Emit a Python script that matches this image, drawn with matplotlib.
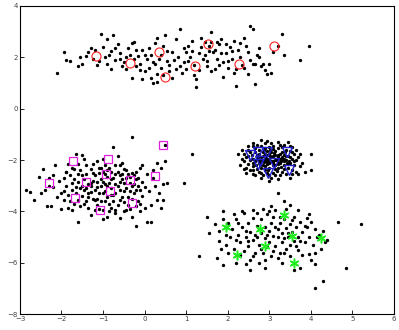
import matplotlib
matplotlib.use("Agg")
import matplotlib.pyplot as plt

# ---- black data points, per cluster (x, y) ----
top_pts = [(-2.1,1.4),(-1.95,2.2),(-1.9,1.9),(-1.8,1.85),(-1.55,2.0),(-1.5,1.75),(-1.35,2.2),(-1.3,2.35),
(-1.25,1.95),(-1.15,1.7),(-1.05,2.9),(-1.0,2.4),(-0.9,2.7),(-0.85,2.1),(-0.8,2.25),(-0.75,2.85),(-0.7,1.9),
(-0.65,2.5),(-0.6,2.15),(-0.55,1.65),(-0.5,1.8),(-0.45,1.55),(-0.45,2.0),(-0.4,2.35),(-0.3,2.55),(-0.3,1.2),
(-0.25,1.95),(-0.2,1.65),(-0.15,2.05),(-0.1,1.75),(-0.05,2.3),(0.0,1.45),(0.05,1.95),(0.1,1.6),(0.15,2.1),
(0.2,1.8),(0.2,1.0),(0.25,2.55),(0.3,1.35),(0.3,1.05),(0.35,1.95),(0.4,1.6),(0.45,2.45),(0.5,2.85),(0.55,1.85),
(0.6,1.45),(0.65,2.2),(0.7,1.9),(0.75,2.7),(0.85,3.1),(0.9,1.4),(0.95,1.8),(1.0,2.2),(1.05,2.45),(1.1,2.0),
(1.15,2.65),(1.2,1.3),(1.25,0.85),(1.3,2.15),(1.35,2.75),(1.4,1.95),(1.45,2.6),(1.5,1.65),(1.55,2.45),(1.6,3.0),
(1.65,2.2),(1.7,1.55),(1.75,1.95),(1.8,2.5),(1.85,2.7),(1.9,1.8),(1.95,2.15),(2.0,1.6),(2.05,2.4),(2.1,1.95),
(2.15,1.4),(2.2,0.9),(2.25,2.3),(2.3,2.55),(2.4,1.6),(2.5,2.2),(2.55,3.2),(2.6,1.75),(2.65,0.98),(2.7,2.1),
(2.75,2.35),(2.8,1.65),(2.9,1.5),(2.95,1.35),(3.0,1.75),(3.2,2.45),(3.3,2.9),(3.35,2.1),(3.75,1.9),(3.95,2.45),
(2.6,3.1),(1.6,2.6),
(-1.4,2.05),(-1.2,2.3),(-1.1,1.85),(-0.95,2.0),(-0.9,1.75),(-0.7,2.35),(-0.6,1.95),(-0.35,2.1),(-0.2,2.3),
(-0.1,1.5),(0.0,2.1),(0.1,2.35),(0.15,1.2),(0.25,1.75),(0.4,2.1),(0.45,1.3),(0.55,2.25),(0.6,1.7),(0.75,1.55),
(0.8,2.0),(0.85,1.65),(0.95,2.35),(1.0,1.55),(1.05,1.85),(1.15,2.25),(1.2,1.7),(1.3,1.5),(1.35,2.4),(1.45,2.1),
(1.5,1.85),(1.55,2.25),(1.6,1.45),(1.7,2.3),(1.75,2.6),(1.8,1.7),(1.85,2.15),(1.95,2.5),(2.0,1.85),(2.1,2.25),
(2.15,2.65),(2.2,1.55),(2.3,2.0),(2.35,1.7),(2.45,2.45),(2.5,1.35),(2.55,1.9),(2.65,1.75),(2.75,2.0),(2.85,1.75),
(3.05,1.4),(0.3,2.75),(-0.8,1.55),(-1.6,1.65),(-0.25,2.6),(0.65,1.2),(1.9,1.25),(1.25,1.15),(-0.05,1.15),
(2.4,2.75),(3.1,2.2)]

left_pts = [(-2.85,-3.15),(-2.75,-3.25),(-2.65,-3.55),(-2.55,-2.65),(-2.45,-2.35),(-2.5,-3.3),(-2.3,-3.0),
(-2.25,-3.8),(-2.2,-2.6),(-2.15,-2.2),(-2.1,-3.45),(-2.05,-2.8),(-2.0,-3.9),(-1.95,-3.2),(-1.9,-2.45),
(-1.85,-3.85),(-1.8,-3.6),(-1.75,-2.9),(-1.7,-2.35),(-1.65,-1.75),(-1.6,-4.4),(-1.55,-3.1),(-1.5,-2.6),
(-1.5,-1.8),(-1.45,-3.7),(-1.4,-2.2),(-1.35,-3.3),(-1.3,-2.9),(-1.3,-4.15),(-1.25,-2.5),(-1.2,-3.55),
(-1.15,-3.05),(-1.1,-2.3),(-1.1,-3.9),(-1.05,-2.75),(-1.0,-3.3),(-1.0,-1.95),(-0.95,-2.55),(-0.95,-3.6),
(-0.9,-3.0),(-0.9,-4.2),(-0.85,-2.3),(-0.8,-2.75),(-0.8,-3.85),(-0.75,-1.5),(-0.75,-3.35),(-0.7,-2.55),
(-0.7,-4.05),(-0.65,-3.0),(-0.6,-2.2),(-0.6,-3.55),(-0.55,-2.75),(-0.5,-3.2),(-0.5,-4.0),(-0.45,-2.4),
(-0.4,-3.45),(-0.35,-2.9),(-0.3,-1.1),(-0.3,-2.5),(-0.25,-3.3),(-0.2,-2.75),(-0.2,-3.8),(-0.15,-3.0),
(-0.1,-2.3),(-0.1,-4.0),(-0.05,-3.4),(0.0,-3.85),(0.05,-2.55),(0.1,-3.2),(0.15,-4.4),(0.2,-2.4),(0.25,-3.0),
(0.35,-3.3),(0.4,-3.85),(0.45,-2.95),(0.5,-2.05),(0.5,-1.4),(0.55,-2.9),(0.4,-2.3),(0.3,-3.55),(0.05,-4.4),
(-0.2,-4.55),(0.95,-2.9),(1.15,-1.75),(-1.6,-2.55),(-2.35,-3.8),
(-1.95,-2.7),(-1.9,-3.0),(-1.85,-3.35),(-1.8,-2.6),(-1.75,-3.15),(-1.7,-3.7),(-1.7,-2.75),(-1.65,-3.3),
(-1.6,-2.85),(-1.6,-3.55),(-1.55,-2.4),(-1.5,-3.0),(-1.5,-3.4),(-1.45,-2.75),(-1.45,-3.15),(-1.4,-2.55),
(-1.4,-3.6),(-1.35,-2.95),(-1.35,-3.85),(-1.3,-2.35),(-1.3,-3.25),(-1.25,-2.8),(-1.25,-3.5),(-1.2,-2.6),
(-1.2,-3.15),(-1.15,-2.85),(-1.15,-3.75),(-1.1,-2.5),(-1.1,-3.3),(-1.05,-3.0),(-1.05,-3.6),(-1.0,-2.45),
(-1.0,-2.85),(-1.0,-3.95),(-0.95,-3.2),(-0.9,-2.65),(-0.9,-3.45),(-0.85,-2.9),(-0.85,-3.7),(-0.8,-2.45),
(-0.8,-3.1),(-0.75,-2.7),(-0.75,-3.6),(-0.7,-2.95),(-0.7,-3.3),(-0.65,-2.45),(-0.65,-3.75),(-0.6,-2.85),
(-0.6,-3.15),(-0.55,-2.55),(-0.55,-3.45),(-0.5,-2.9),(-0.5,-3.65),(-0.45,-2.7),(-0.45,-3.1),(-0.4,-2.55),
(-0.4,-3.75),(-0.35,-3.2),(-0.35,-2.65),(-0.3,-3.5),(-0.25,-2.95),(-0.25,-2.6),(-0.2,-3.15),(-0.15,-3.6),
(-0.15,-2.7),(-0.1,-3.15),(-0.05,-2.85),(0.0,-3.05),(-1.75,-2.3),(-1.25,-2.15),(-0.95,-2.2),(-0.55,-2.1),
(-0.2,-2.45),(-1.85,-2.15),(-2.2,-3.05),(-2.0,-3.3),(-1.55,-3.8),(-1.2,-3.95),(-0.85,-4.0),(-0.45,-3.95),
(-0.1,-3.7),(-1.95,-3.55),(-1.35,-3.45),(-0.95,-2.95),(-0.7,-3.95),(-0.35,-3.9),(-1.15,-2.05),(-0.65,-1.85),
(-1.45,-1.95),(-2.3,-2.7),(-2.4,-3.15),(-1.75,-3.95),(-0.3,-4.2),(-0.6,-4.25),(-1.0,-4.3),(0.15,-3.75),
(0.2,-2.7),(-0.05,-2.2),(0.3,-2.1),(0.45,-3.55),(-1.6,-2.15),(-1.3,-3.0),(-1.05,-2.3),(-0.8,-3.35),
(-0.5,-2.35),(-1.4,-3.1),(-1.15,-3.5),(-0.9,-2.4),(-0.6,-2.6),(-0.3,-3.0),(-1.65,-3.05),(-1.9,-2.45),(-0.7,-2.2)]

mid_pts = [(2.25,-1.75),(2.4,-2.05),(2.35,-1.6),(2.5,-1.45),(2.6,-1.35),(2.8,-1.2),(2.95,-1.25),(3.2,-1.3),
(3.45,-1.3),(3.55,-1.5),(3.75,-1.75),(3.8,-2.1),(3.85,-2.45),(3.7,-2.55),(3.5,-2.7),(3.2,-2.75),(3.0,-2.8),
(2.8,-2.7),(2.6,-2.55),(2.45,-2.3),(2.3,-2.2),(4.0,-1.75),(4.0,-2.4),(3.2,-3.3),
(2.45,-1.9),(2.5,-2.15),(2.55,-1.7),(2.55,-2.4),(2.6,-1.95),(2.6,-2.25),(2.65,-1.55),(2.65,-2.05),(2.7,-1.8),
(2.7,-2.35),(2.75,-1.6),(2.75,-2.1),(2.8,-1.45),(2.8,-1.9),(2.8,-2.5),(2.85,-1.7),(2.85,-2.2),(2.9,-1.55),
(2.9,-2.0),(2.9,-2.4),(2.95,-1.8),(2.95,-2.15),(3.0,-1.5),(3.0,-1.95),(3.0,-2.3),(3.0,-2.6),(3.05,-1.7),
(3.05,-2.05),(3.1,-1.45),(3.1,-1.85),(3.1,-2.2),(3.1,-2.5),(3.15,-1.65),(3.15,-2.0),(3.2,-1.55),(3.2,-1.9),
(3.2,-2.3),(3.25,-1.75),(3.25,-2.1),(3.3,-1.5),(3.3,-1.95),(3.3,-2.45),(3.35,-1.8),(3.35,-2.2),(3.4,-1.6),
(3.4,-2.0),(3.45,-1.85),(3.45,-2.3),(3.5,-1.65),(3.5,-2.1),(3.55,-1.95),(3.55,-2.4),(3.6,-1.75),(3.6,-2.2),
(3.65,-2.0),(3.7,-1.9),(2.4,-1.75),(2.45,-2.5),(2.5,-1.6),(2.55,-2.0),(2.6,-1.45),(2.65,-2.6),(2.7,-1.4),
(2.75,-2.45),(2.85,-2.6),(2.9,-1.35),(2.95,-2.5),(3.05,-1.35),(3.05,-2.7),(3.15,-2.6),(3.25,-1.4),(3.25,-2.6),
(3.35,-1.4),(3.4,-2.55),(3.5,-1.45),(3.55,-2.55),(3.65,-1.6),(3.65,-2.45),(3.75,-2.25),(2.35,-1.95),(2.4,-2.35),
(2.5,-1.85),(2.6,-2.1),(2.7,-1.95),(2.75,-1.75),(2.8,-2.05),(2.85,-1.85),(2.9,-2.25),(2.95,-1.65),(3.0,-2.1),
(3.05,-1.9),(3.1,-2.05),(3.15,-1.8),(3.2,-2.15),(3.25,-1.95),(3.3,-1.7),(3.35,-2.05),(3.4,-1.85),(3.45,-2.15),
(3.5,-1.9),(3.55,-1.7),(3.6,-2.05),(2.65,-1.7),(2.9,-1.75),(3.0,-1.75),(3.15,-2.35),(2.8,-2.3),(3.35,-2.35),
(2.72,-1.88),(2.78,-2.18),(2.88,-1.62),(2.92,-1.92),(2.98,-2.38),(3.02,-1.62),(3.08,-2.12),(3.12,-1.72),
(3.18,-2.42),(3.22,-1.82),(3.28,-2.28),(3.32,-1.88),(3.38,-1.68),(3.42,-2.12),(3.48,-2.02),(2.68,-2.18),
(2.58,-1.82),(2.62,-2.38),(2.88,-2.08),(3.18,-1.98),(3.28,-2.02),(3.08,-1.58),(2.96,-1.98),(3.14,-2.18),
(2.84,-1.98),(3.36,-1.96),(3.02,-1.84),(2.94,-2.06),(3.22,-2.06),(2.76,-1.98)]

bot_pts = [(1.3,-5.75),(1.5,-4.2),(1.55,-4.85),(1.9,-4.0),(1.9,-6.1),(2.2,-6.0),(2.45,-6.05),(2.55,-6.3),
(2.9,-6.2),(4.1,-6.05),(4.1,-7.0),(4.3,-6.7),(4.65,-4.4),(4.85,-6.2),(5.2,-4.5),(4.35,-5.2),(4.2,-4.9),
(3.95,-4.1),(3.5,-3.75),(3.35,-3.6),
(1.8,-4.75),(1.8,-5.15),(1.95,-5.3),(2.0,-4.45),(2.05,-5.0),(2.1,-4.7),(2.15,-5.45),(2.2,-4.3),(2.25,-4.9),
(2.3,-5.2),(2.35,-4.6),(2.4,-5.55),(2.4,-4.05),(2.45,-5.0),(2.5,-4.45),(2.5,-5.35),(2.55,-4.8),(2.6,-5.1),
(2.6,-4.25),(2.65,-5.6),(2.7,-4.55),(2.7,-5.0),(2.75,-5.3),(2.8,-4.3),(2.8,-4.85),(2.85,-5.6),(2.9,-4.6),
(2.9,-5.05),(2.95,-4.1),(2.95,-5.4),(3.0,-4.75),(3.0,-5.2),(3.05,-4.45),(3.05,-5.75),(3.1,-4.95),(3.1,-4.2),
(3.15,-5.35),(3.2,-4.7),(3.2,-5.0),(3.25,-4.45),(3.25,-5.6),(3.3,-4.85),(3.3,-5.2),(3.35,-4.3),(3.4,-4.65),
(3.4,-5.45),(3.45,-5.0),(3.5,-4.5),(3.5,-5.3),(3.55,-4.8),(3.6,-4.2),(3.6,-5.15),(3.65,-4.6),(3.7,-5.0),
(3.7,-5.5),(3.75,-4.4),(3.8,-4.8),(3.85,-5.2),(3.9,-4.6),(3.95,-5.0),(4.0,-4.4),(4.05,-5.3),(4.1,-4.7),
(4.15,-5.0),(2.35,-4.0),(2.6,-3.95),(2.85,-3.9),(3.15,-3.95),(3.4,-3.9),(3.7,-3.95),(3.9,-4.25),(4.25,-5.45),
(4.1,-5.6),(3.8,-5.7),(3.5,-5.75),(3.2,-5.8),(2.9,-5.9),(2.6,-5.75),(2.3,-5.7),(2.0,-5.6),(1.85,-5.45),
(1.7,-4.5),(1.9,-4.3),(2.15,-4.1),(3.6,-6.3),(3.3,-6.0),(3.95,-5.65),(4.0,-5.9),(3.75,-6.2),(2.75,-6.0),
(2.55,-5.9),(2.45,-4.75),(2.7,-4.05),(3.05,-3.8),(2.2,-5.1),(2.95,-4.9),(3.35,-5.05),(3.55,-4.35),(3.85,-4.55),
(3.15,-4.6),(2.75,-4.7),(2.5,-5.15),(3.45,-4.85),(3.65,-5.35),(3.1,-5.55),(2.8,-5.45),(4.3,-4.75),(4.4,-5.1),
(1.95,-4.9),(2.25,-4.45),(1.75,-5.8),(3.0,-4.0),(3.25,-4.2),(2.65,-4.9),(3.75,-5.15),(3.35,-5.6)]

# ---- highlighted samples ----
red_x = [-1.17, -0.36, 0.34, 0.50, 1.22, 1.53, 2.27, 3.11]
red_y = [2.06, 1.77, 2.22, 1.23, 1.68, 2.51, 1.73, 2.44]
mag_x = [-2.29, -1.73, -1.68, -1.42, -1.08, -0.92, -0.88, -0.84, -0.36, -0.31, 0.25, 0.45]
mag_y = [-2.91, -2.05, -3.48, -2.86, -3.96, -2.53, -1.96, -3.22, -2.78, -3.68, -2.62, -1.43]
blue_x = [2.53, 2.72, 2.72, 2.94, 2.79, 2.96, 3.11, 3.42, 3.47]
blue_y = [-1.80, -2.16, -1.69, -1.69, -2.04, -2.51, -2.12, -1.69, -2.39]
grn_x = [1.95, 2.22, 2.77, 2.89, 3.35, 3.55, 3.59, 4.25]
grn_y = [-4.61, -5.69, -4.68, -5.36, -4.12, -4.97, -5.99, -5.05]

x_ticks = [-3, -2, -1, 0, 1, 2, 3, 4, 5, 6]
y_ticks = [-8, -6, -4, -2, 0, 2, 4]

fig = plt.figure(figsize=(3.99, 3.30), dpi=100)
ax = fig.add_axes([0.050, 0.048, 0.937, 0.934])

for pts in (top_pts, left_pts, mid_pts, bot_pts):
    xs = [p[0] for p in pts]
    ys = [p[1] for p in pts]
    ax.plot(xs, ys, linestyle='none', marker='o', ms=1.4, color='black', mec='black')

ax.plot(red_x, red_y, linestyle='none', marker='o', ms=6.5, mfc='none', mec='#ff2020', mew=0.8)
ax.plot(mag_x, mag_y, linestyle='none', marker='s', ms=5.5, mfc='none', mec='#e020e0', mew=0.9)
ax.plot(blue_x, blue_y, linestyle='none', marker='v', ms=6.5, mfc='none', mec='#2020d0', mew=1.0)
ax.plot(grn_x, grn_y, linestyle='none', marker=(6, 2, 0), ms=7, color='#20ee20', mec='#20ee20', mew=1.1)

ax.set_xlim(-3, 6)
ax.set_ylim(-8, 4)
ax.set_xticks(x_ticks)
ax.set_yticks(y_ticks)
ax.tick_params(direction='in', length=3, width=0.6, labelsize=5, labelcolor='#444444', pad=1.5)
for s in ax.spines.values():
    s.set_linewidth(0.8)

fig.savefig('out.png', dpi=100)
